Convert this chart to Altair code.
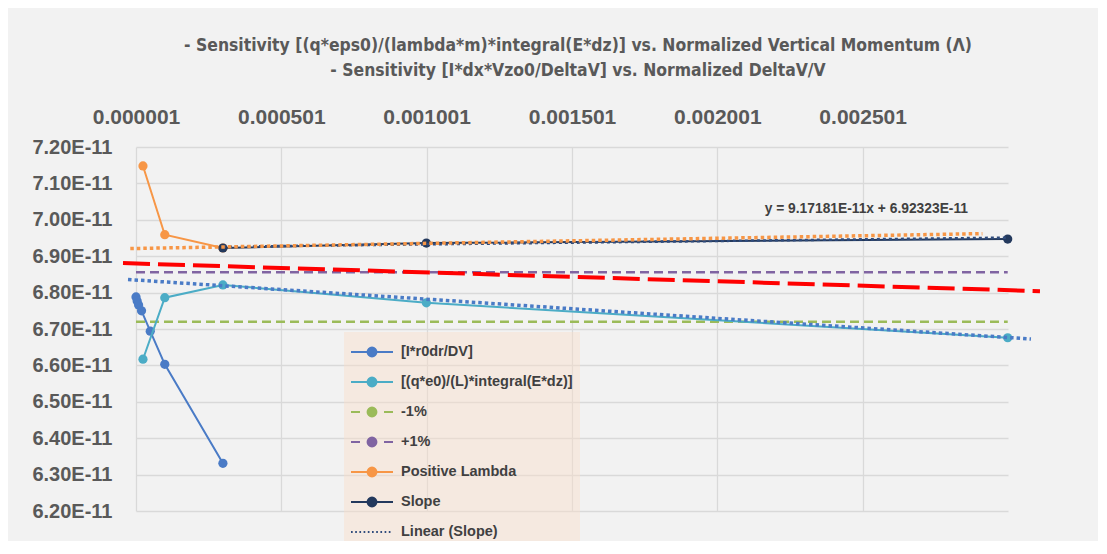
import altair as alt
import pandas as pd

# ---------------- data (y values in units of 1E-11) ----------------
series_names = ["[I*r0dr/DV]", "[(q*e0)/(L)*integral(E*dz)]", "-1%", "+1%",
                "Positive Lambda", "Slope", "Linear (Slope)"]
series_colors = ["#4a7bc6", "#4bacc6", "#9bbb59", "#8064a2",
                 "#f79646", "#23395d", "#2f4b7c"]

blue_x = [0.000001, 0.000005, 0.00001, 0.00002, 0.00005, 0.0001, 0.0003]
blue_y = [6.788, 6.777, 6.766, 6.750, 6.694, 6.603, 6.331]

teal_x = [0.000025, 0.0001, 0.0003, 0.001, 0.003]
teal_y = [6.617, 6.786, 6.821, 6.772, 6.676]

orange_x = [0.000025, 0.0001, 0.0003]
orange_y = [7.148, 6.959, 6.9225]

slope_x = [0.0003, 0.001, 0.003]
slope_y = [6.9225, 6.936, 6.947]

minus1_x = [0.000001, 0.003]
minus1_y = [6.720, 6.720]

plus1_x = [0.000001, 0.003]
plus1_y = [6.856, 6.856]

lin_slope_x = [0.0003, 0.003]
lin_slope_y = [6.926, 6.951]

orange_trend_x = [-0.0000186, 0.002913]
orange_trend_y = [6.921, 6.962]

blue_trend_x = [-0.0000265, 0.00308]
blue_trend_y = [6.836, 6.6725]

red_x = [-0.0000437, 0.003111]
red_y = [6.881, 6.804]

x_ticks = [0.000001, 0.000501, 0.001001, 0.001501, 0.002001, 0.002501]
y_ticks = [6.2, 6.3, 6.4, 6.5, 6.6, 6.7, 6.8, 6.9, 7.0, 7.1, 7.2]

eq_text = ["y = 9.17181E-11x + 6.92323E-11"]
eq_x = [0.002164]
eq_y = [7.031]

title_lines = [
    "- Sensitivity [(q*eps0)/(lambda*m)*integral(E*dz)]  vs. Normalized Vertical Momentum (\u039b)",
    "- Sensitivity  [I*dx*Vzo0/DeltaV] vs. Normalized DeltaV/V",
]


def frame(name, xs, ys):
    return pd.DataFrame({"series": name, "x": xs, "y": ys})


df_blue = frame(series_names[0], blue_x, blue_y)
df_teal = frame(series_names[1], teal_x, teal_y)
df_m1 = frame(series_names[2], minus1_x, minus1_y)
df_p1 = frame(series_names[3], plus1_x, plus1_y)
df_or = frame(series_names[4], orange_x, orange_y)
df_slope = frame(series_names[5], slope_x, slope_y)
df_lin = frame(series_names[6], lin_slope_x, lin_slope_y)
df_ortr = frame("orange trend", orange_trend_x, orange_trend_y)
df_bltr = frame("blue trend", blue_trend_x, blue_trend_y)
df_red = frame("red", red_x, red_y)
df_eq = pd.DataFrame({"x": eq_x, "y": eq_y, "t": eq_text})

# ---------------- styles ----------------
AX_FONT = "Liberation Sans"
TXT = "#595959"

xscale = alt.Scale(domain=[0.000001, 0.003001], nice=False, zero=False)
yscale = alt.Scale(domain=[6.2, 7.2], nice=False, zero=False)

x_axis = alt.Axis(orient="top", values=x_ticks, labelExpr="format(datum.value, '.6f')",
                  title=None, grid=True, gridColor="#d9d9d9", gridWidth=1.3,
                  domain=False, ticks=False, labelFont=AX_FONT, labelFontSize=21,
                  labelFontWeight="bold", labelColor=TXT, labelPadding=20,
                  labelFlush=False, labelOverlap=False)
y_axis = alt.Axis(values=y_ticks, labelExpr="format(datum.value, '.2f') + 'E-11'",
                  title=None, grid=True, gridColor="#d9d9d9", gridWidth=1.3,
                  domain=False, ticks=False, labelFont=AX_FONT, labelFontSize=20,
                  labelFontWeight="bold", labelColor=TXT, labelPadding=24,
                  labelFlush=False, labelOverlap=False)


def X():
    return alt.X("x:Q", scale=xscale, axis=x_axis)


def Y():
    return alt.Y("y:Q", scale=yscale, axis=y_axis)


color_scale = alt.Scale(domain=series_names, range=series_colors)


def C():
    return alt.Color("series:N", scale=color_scale, legend=None)


def dashed(df, dash, width):
    return alt.Chart(df).mark_line(strokeDash=dash, strokeWidth=width, strokeCap="butt").encode(
        x=X(), y=Y(), color=C())


def marked(df):
    return alt.Chart(df).mark_line(
        strokeWidth=2,
        point=alt.OverlayMarkDef(filled=True, size=85, opacity=1),
    ).encode(x=X(), y=Y(), color=C())


def fixed(df, color, dash, width):
    return alt.Chart(df).mark_line(color=color, strokeDash=dash, strokeWidth=width,
                                   strokeCap="butt").encode(x=X(), y=Y())


green = dashed(df_m1, [9, 5], 2.5)
purple = dashed(df_p1, [9, 5], 2.5)
red = fixed(df_red, "#ff0000", [27, 8], 4)
blue = marked(df_blue)
teal = marked(df_teal)
blue_trend = fixed(df_bltr, "#4a7bc6", [3.5, 3], 3.5)
orange = marked(df_or)
slope = marked(df_slope)
lin = dashed(df_lin, [3, 3], 2.5)
orange_trend = fixed(df_ortr, "#f79646", [3.5, 3], 3.5)

eq = alt.Chart(df_eq).mark_text(align="left", baseline="middle", font=AX_FONT,
                                fontSize=13.8, fontWeight="bold", color="#404040").encode(
    x=X(), y=Y(), text="t:N")

# ---------------- legend (built by the library from the series scale) ----------------
# symbol unit = 12 px (symbolSize 24^2); symbols are 42 px wide
R = 0.37
circ = "M%.2f,0A%.2f,%.2f,0,1,0,%.2f,0A%.2f,%.2f,0,1,0,%.2f,0Z" % (-R, R, R, R, R, R, -R)
line_dot = "M-1.75,0L1.75,0" + circ
dash_dot = "M-1.75,0L-1.0,0M1.0,0L1.75,0" + circ
dotted = "".join("M%.3f,0L%.3f,0" % (-1.75 + i * 0.35, -1.75 + i * 0.35 + 0.14) for i in range(10))
series_paths = [line_dot, line_dot, dash_dot, dash_dot, line_dot, line_dot, dotted]

leg = alt.Legend(title=None, orient="none", legendX=208, legendY=185,
                 fillColor="rgba(250,222,200,0.42)", padding=7,
                 symbolSize=576, symbolStrokeWidth=2, symbolOffset=8, labelOffset=16,
                 labelFont=AX_FONT, labelFontSize=14.5, labelFontWeight="bold",
                 labelColor="#404040", rowPadding=8.0, labelLimit=400)

all_df = pd.concat([df_blue, df_teal, df_m1, df_p1, df_or, df_slope, df_lin])
legend_layer = alt.Chart(all_df).transform_filter("false").mark_point(
    filled=True, opacity=1).encode(
    x=X(), y=Y(),
    color=alt.Color("series:N", scale=color_scale, legend=leg),
    stroke=alt.Stroke("series:N", scale=alt.Scale(domain=series_names, range=series_colors), legend=leg),
    shape=alt.Shape("series:N", scale=alt.Scale(domain=series_names, range=series_paths), legend=leg),
)

chart = alt.layer(
    legend_layer, green, purple, red, blue, teal, blue_trend, orange, slope, lin, orange_trend, eq
).properties(
    width=872, height=364,
    padding={"left": 128, "top": 139, "right": 90, "bottom": 30},
    autosize=alt.AutoSizeParams(type="none"),
    title=alt.TitleParams(text=title_lines, anchor="middle", frame="group",
                          font="Liberation Sans Narrow, DejaVu Sans Condensed, sans-serif",
                          fontSize=17.4, fontWeight="bold", color=TXT, lineHeight=25, offset=27,
                          dx=6),
).configure(background="#f2f2f2").configure_view(stroke=None)

chart.save("out.html", embed_options={"renderer": "svg", "actions": False})
